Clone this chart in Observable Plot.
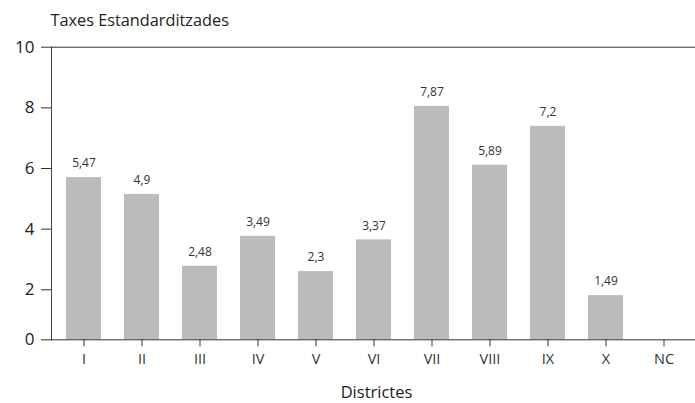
<!DOCTYPE html>
<html>
<head>
<meta charset="utf-8">
<script src="https://cdn.jsdelivr.net/npm/d3@7"></script>
<script src="https://cdn.jsdelivr.net/npm/@observablehq/plot@0.6"></script>
<style>
  html, body { margin: 0; padding: 0; background: #fff; }
  #chart { position: relative; width: 695px; height: 403px; font-family: "Open Sans", sans-serif; }
  #chart svg { position: absolute; left: 0; top: 0; }
</style>
</head>
<body>
<div id="chart"></div>
<script>
// Data
const districts = ["I", "II", "III", "IV", "V", "VI", "VII", "VIII", "IX", "X", "NC"];
const rates = [5.47, 4.9, 2.48, 3.49, 2.3, 3.37, 7.87, 5.89, 7.2, 1.49, null];
const yTicks = [0, 2, 4, 6, 8, 10];
const yTitle = "Taxes Estandarditzades";
const xTitle = "Districtes";

const data = districts.map((d, i) => ({district: d, rate: rates[i]}));
const barData = data.filter(d => d.rate != null);
const fmt = v => String(v).replace(".", ",");

const W = 695, H = 403;
const baseY = 339.3;     // pixel of zero line
const font = "Open Sans";

// Layer 1: bars, labels, x axis
const plotBars = Plot.plot({
  width: W, height: H,
  marginLeft: 51, marginRight: 0, marginTop: 42.8, marginBottom: H - baseY,
  style: {fontFamily: font, background: "transparent", overflow: "visible"},
  x: {domain: districts, paddingInner: 0.4, paddingOuter: 0.2, label: null},
  y: {type: "linear", domain: [0, 10], axis: null},
  marks: [
    Plot.barY(barData, {x: "district", y: "rate", fill: "#bbbbbb"}),
    Plot.text(barData, {x: "district", y: "rate", text: d => fmt(d.rate), dy: -14,
      fontSize: 12, fill: "#333", fontFamily: font}),
    Plot.axisX({tickSize: 7, tickPadding: 7, fontSize: 14.5, color: "#333", stroke: "#333",
      fontFamily: font, label: null}),
    Plot.text([xTitle], {frameAnchor: "bottom", lineAnchor: "middle", dx: 3, dy: 53,
      fontSize: 16.5, fill: "#222", fontFamily: font})
  ]
});

// Layer 2: y axis, frame lines, y title
const plotAxis = Plot.plot({
  width: W, height: H,
  marginLeft: 51, marginRight: 0, marginTop: 46.7, marginBottom: H - baseY,
  style: {fontFamily: font, background: "transparent", overflow: "visible"},
  y: {type: "linear", domain: [0, 2, 10], range: [baseY, 289.3, 46.7], axis: null},
  marks: [
    Plot.axisY(yTicks, {tickSize: 10, tickPadding: 7, fontSize: 17, color: "#222", stroke: "#333",
      fontFamily: font, label: null}),
    Plot.frame({anchor: "left", stroke: "#444"}),
    Plot.frame({anchor: "top", stroke: "#333"}),
    Plot.frame({anchor: "bottom", stroke: "#333"}),
    Plot.text([yTitle], {frameAnchor: "top-left", lineAnchor: "middle", dx: -1, dy: -26,
      textAnchor: "start", fontSize: 16.3, fill: "#222", fontFamily: font})
  ]
});

const el = document.getElementById("chart");
el.appendChild(plotBars);
el.appendChild(plotAxis);
</script>
</body>
</html>
